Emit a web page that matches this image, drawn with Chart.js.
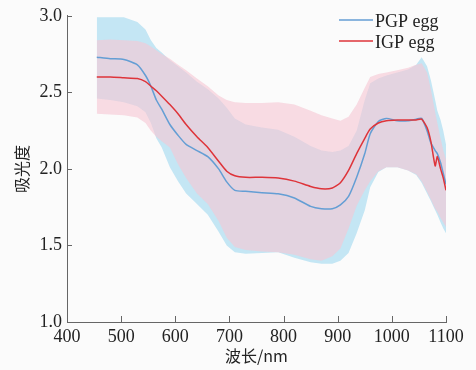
<!DOCTYPE html>
<html>
<head>
<meta charset="utf-8">
<script src="https://cdn.jsdelivr.net/npm/chart.js@4.4.0/dist/chart.umd.min.js"></script>
<style>
  body { margin: 0; background: #fbfbfb; }
  #box { width: 476px; height: 370px; }
</style>
</head>
<body>
<div id="box"><canvas id="c" width="476" height="370"></canvas></div>
<script>
// wavelength (nm)
const wavelengths = [455, 480, 505, 530, 545, 555, 565, 575, 590, 605, 620, 640, 660, 680, 695, 710, 730, 760, 790, 820,
  850, 870, 890, 905, 920, 935, 950, 960, 975, 990, 1010, 1030, 1045, 1055, 1065, 1072, 1080, 1084, 1090, 1095, 1100];

// PGP egg: mean and band
const pgpMean = [2.73, 2.72, 2.715, 2.68, 2.61, 2.54, 2.45, 2.39, 2.29, 2.22, 2.16, 2.12, 2.08, 2.00, 1.915, 1.86, 1.854, 1.845, 1.837, 1.81,
  1.755, 1.74, 1.74, 1.765, 1.82, 1.945, 2.10, 2.23, 2.31, 2.33, 2.315, 2.315, 2.325, 2.33, 2.25, 2.17, 2.12, 2.10, 2.04, 1.97, 1.90];
const pgpUpper = [2.99, 2.99, 2.99, 2.96, 2.91, 2.84, 2.79, 2.76, 2.71, 2.67, 2.63, 2.57, 2.52, 2.46, 2.40, 2.33, 2.29, 2.27, 2.255, 2.21,
  2.15, 2.12, 2.11, 2.12, 2.15, 2.25, 2.45, 2.56, 2.59, 2.61, 2.63, 2.65, 2.68, 2.73, 2.67, 2.58, 2.45, 2.38, 2.32, 2.25, 2.16];
const pgpLower = [2.46, 2.45, 2.435, 2.41, 2.37, 2.30, 2.20, 2.14, 2.01, 1.92, 1.84, 1.77, 1.70, 1.59, 1.50, 1.455, 1.445, 1.45, 1.455, 1.42,
  1.39, 1.38, 1.38, 1.40, 1.45, 1.58, 1.73, 1.88, 1.98, 2.01, 2.01, 1.99, 1.96, 1.91, 1.84, 1.79, 1.73, 1.70, 1.65, 1.61, 1.58];

// IGP egg: mean and band
const igpMean = [2.60, 2.60, 2.595, 2.59, 2.57, 2.54, 2.51, 2.475, 2.42, 2.36, 2.29, 2.21, 2.14, 2.05, 1.985, 1.955, 1.945, 1.945, 1.94, 1.92,
  1.885, 1.87, 1.875, 1.91, 1.99, 2.10, 2.20, 2.26, 2.30, 2.315, 2.32, 2.32, 2.32, 2.325, 2.27, 2.18, 2.02, 2.08, 2.00, 1.94, 1.86];
const igpUpper = [2.84, 2.845, 2.84, 2.835, 2.82, 2.80, 2.775, 2.75, 2.72, 2.68, 2.645, 2.59, 2.54, 2.48, 2.45, 2.435, 2.43, 2.43, 2.435, 2.42,
  2.38, 2.35, 2.33, 2.315, 2.34, 2.42, 2.53, 2.60, 2.62, 2.63, 2.645, 2.66, 2.68, 2.69, 2.63, 2.52, 2.37, 2.30, 2.20, 2.12, 2.06];
const igpLower = [2.36, 2.355, 2.35, 2.335, 2.30, 2.25, 2.21, 2.18, 2.14, 2.03, 1.94, 1.84, 1.77, 1.66, 1.55, 1.49, 1.47, 1.46, 1.455, 1.44,
  1.41, 1.40, 1.43, 1.48, 1.61, 1.76, 1.86, 1.92, 1.985, 2.01, 2.01, 1.99, 1.965, 1.92, 1.85, 1.80, 1.74, 1.72, 1.68, 1.65, 1.62];

const seriesNames = ["PGP egg", "IGP egg"];

const blueLine = "rgb(100,158,212)";
const redLine = "rgb(222,52,58)";
const serif = "'Liberation Serif', 'DejaVu Serif', serif";
const cjk = "'Noto Sans CJK SC', sans-serif";

const toPoints = ys => wavelengths.map((x, i) => ({ x: x, y: ys[i] }));

const band = (data, color, fill, order) => ({
  data: toPoints(data),
  borderWidth: 0,
  pointRadius: 0,
  backgroundColor: color,
  fill: fill,
  order: order,
});

// inward tick marks
const innerTicks = {
  id: "innerTicks",
  afterDraw(chart) {
    const ctx = chart.ctx;
    const { left, bottom } = chart.chartArea;
    ctx.save();
    ctx.strokeStyle = "#666";
    ctx.lineWidth = 1;
    chart.scales.x.ticks.forEach(t => {
      const px = Math.round(chart.scales.x.getPixelForValue(t.value)) + 0.5;
      ctx.beginPath();
      ctx.moveTo(px, bottom);
      ctx.lineTo(px, bottom - 6);
      ctx.stroke();
    });
    chart.scales.y.ticks.forEach(t => {
      const py = Math.round(chart.scales.y.getPixelForValue(t.value)) + 0.5;
      ctx.beginPath();
      ctx.moveTo(left, py);
      ctx.lineTo(left + 5, py);
      ctx.stroke();
    });
    ctx.restore();
  },
};

// legend in the upper right corner
const cornerLegend = {
  id: "cornerLegend",
  afterDraw(chart) {
    const ctx = chart.ctx;
    const items = [
      { text: seriesNames[0], color: blueLine, y: 20 },
      { text: seriesNames[1], color: redLine, y: 41 },
    ];
    ctx.save();
    ctx.font = "18px " + serif;
    ctx.fillStyle = "#222";
    ctx.textBaseline = "middle";
    items.forEach(it => {
      ctx.strokeStyle = it.color;
      ctx.lineWidth = 1.5;
      ctx.beginPath();
      ctx.moveTo(339, it.y);
      ctx.lineTo(373, it.y);
      ctx.stroke();
      ctx.fillText(it.text, 375, it.y + 2);
    });
    ctx.restore();
  },
};

new Chart(document.getElementById("c"), {
  type: "line",
  data: {
    datasets: [
      {
        label: seriesNames[1],
        data: toPoints(igpMean),
        borderColor: redLine,
        borderWidth: 1.5,
        pointRadius: 0,
        tension: 0.2,
        fill: false,
        order: 0,
      },
      {
        label: seriesNames[0],
        data: toPoints(pgpMean),
        borderColor: blueLine,
        borderWidth: 1.5,
        pointRadius: 0,
        tension: 0.2,
        fill: false,
        order: 1,
      },
      band(igpUpper, "rgba(245,198,212,0.62)", "+1", 2),
      band(igpLower, "rgba(0,0,0,0)", false, 2),
      band(pgpUpper, "rgb(196,230,244)", "+1", 3),
      band(pgpLower, "rgba(0,0,0,0)", false, 3),
    ],
  },
  options: {
    responsive: false,
    devicePixelRatio: 1,
    animation: false,
    events: [],
    layout: { padding: { left: 0, top: 15, right: 30, bottom: 0 } },
    plugins: {
      legend: { display: false },
      tooltip: { enabled: false },
    },
    scales: {
      x: {
        type: "linear",
        min: 400,
        max: 1100,
        ticks: { stepSize: 100, padding: 4, color: "#222", font: { family: serif, size: 18 }, callback: v => String(v) },
        grid: { display: false, drawTicks: false },
        border: { display: true, color: "#666", width: 1 },
        title: { display: true, text: "波长/nm", color: "#222", font: { family: cjk, size: 16 }, padding: { top: 0, bottom: 4 } },
        afterFit: s => { s.height = 48; },
      },
      y: {
        min: 1.0,
        max: 3.0,
        ticks: { stepSize: 0.5, padding: 5, color: "#222", font: { family: serif, size: 18 }, callback: v => v.toFixed(1) },
        grid: { display: false, drawTicks: false },
        border: { display: true, color: "#666", width: 1 },
        title: { display: true, text: "吸光度", color: "#222", font: { family: cjk, size: 16 }, padding: { top: 12, bottom: 0 } },
        afterFit: s => { s.width = 67; },
      },
    },
  },
  plugins: [innerTicks, cornerLegend],
});
</script>
</body>
</html>
